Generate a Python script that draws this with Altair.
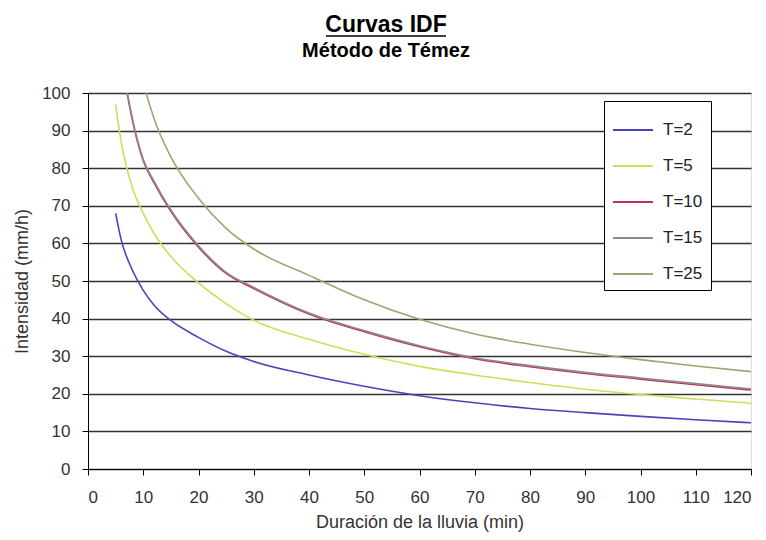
import altair as alt
import pandas as pd

durations = [5, 6, 8, 10, 12, 15, 20, 25, 30, 40, 50, 60, 70, 80, 90, 100, 110, 120]
t2  = [68, 61, 53, 47.5, 43.5, 39.5, 35, 31.3, 28.6, 25, 22, 19.5, 17.6, 16.1, 15, 14, 13.1, 12.3]
t5  = [97, 87, 75, 68, 62.5, 56.5, 49.5, 44, 39.6, 34.5, 30.5, 27.3, 25, 23, 21.2, 19.8, 18.6, 17.5]
t10 = [122, 110, 93, 82, 76, 68.5, 59, 52, 48, 41.2, 36.5, 32.5, 29.3, 27.2, 25.4, 23.9, 22.4, 21]
t15 = [122.5, 110.5, 93.5, 82.4, 76.4, 68.9, 59.4, 52.3, 48.3, 41.5, 36.8, 32.8, 29.6, 27.5, 25.7, 24.2, 22.7, 21.3]
t25 = [150, 138, 117, 103, 93, 83, 72, 64, 58.5, 51.5, 45.0, 39.8, 35.9, 33.2, 31.0, 29.1, 27.4, 25.9]
series_names = ["T=2", "T=5", "T=10", "T=15", "T=25"]
series_vals = [t2, t5, t10, t15, t25]
colors = ["#4646b8", "#d2dc5a", "#c0305c", "#8c8c8c", "#a4a470"]
x_ticks = list(range(0, 121, 10))
y_ticks = list(range(0, 101, 10))
title_text = "Curvas IDF"
subtitle_text = "Método de Témez"

rows = []
for name, vals in zip(series_names, series_vals):
    for d, v in zip(durations, vals):
        rows.append({"Duracion": d, "Intensidad": v, "Serie": name})
df = pd.DataFrame(rows)

FONT = "Liberation Sans"
W, H = 663, 376

lines = alt.Chart(df).mark_line(interpolate="monotone", clip=True, strokeWidth=1.6).encode(
    x=alt.X("Duracion:Q",
            scale=alt.Scale(domain=[0, 120], nice=False),
            axis=alt.Axis(values=x_ticks, title="Duración de la lluvia (min)", grid=False,
                          domain=True, domainColor="black", tickColor="black", tickSize=6,
                          labelFontSize=17, labelColor="#333333", labelFont=FONT, labelPadding=14,
                          titleFont=FONT, titleFontSize=18, titleFontWeight="normal",
                          titleColor="#333333", titlePadding=8)),
    y=alt.Y("Intensidad:Q",
            scale=alt.Scale(domain=[0, 100], nice=False),
            axis=alt.Axis(values=y_ticks, title="Intensidad (mm/h)", grid=True,
                          gridColor="#333333", gridWidth=1.3, gridOpacity=1,
                          domain=True, domainColor="black", tickColor="black", tickSize=6,
                          labelFontSize=17, labelColor="#333333", labelFont=FONT, labelPadding=12,
                          titleFont=FONT, titleFontSize=18, titleFontWeight="normal",
                          titleColor="#333333", titlePadding=10)),
    color=alt.Color("Serie:N",
                    scale=alt.Scale(domain=series_names, range=colors),
                    legend=alt.Legend(title=None, orient="none", legendX=516, legendY=8,
                                      symbolType="stroke", symbolSize=1600, symbolStrokeWidth=2,
                                      labelFont=FONT, labelFontSize=17, labelColor="#222222",
                                      rowPadding=7, padding=8, fillColor="white",
                                      strokeColor="black", labelOffset=9)),
)

title_df = pd.DataFrame({"t": [title_text]})
sub_df = pd.DataFrame({"t": [subtitle_text]})

title_mark = alt.Chart(title_df).mark_text(
    font=FONT, fontSize=23, fontWeight="bold", color="black", align="center", baseline="alphabetic"
).encode(text="t:N", x=alt.value(298), y=alt.value(-61))

sub_mark = alt.Chart(sub_df).mark_text(
    font=FONT, fontSize=20, fontWeight="bold", color="black", align="center", baseline="alphabetic"
).encode(text="t:N", x=alt.value(298), y=alt.value(-36))

underline = alt.Chart(title_df).mark_rule(color="black", strokeWidth=1.6).encode(
    x=alt.value(238), x2=alt.value(358), y=alt.value(-57)
)

chart = alt.layer(lines, title_mark, sub_mark, underline).properties(
    width=W, height=H,
    padding={"left": 80, "top": 85, "right": 7, "bottom": 68},
    autosize=alt.AutoSizeParams(type="none"),
).configure_view(stroke="black", strokeWidth=1.2).configure(background="white")

chart.save("out.html", embed_options={"renderer": "svg", "actions": False})
